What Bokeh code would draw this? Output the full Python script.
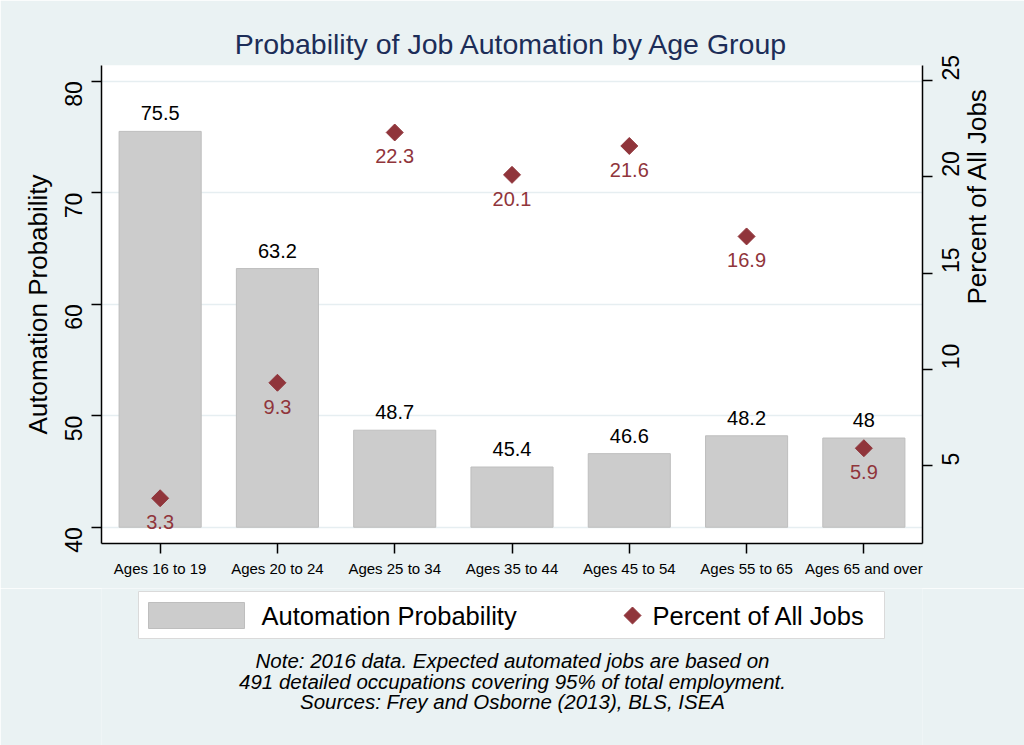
import math
from bokeh.plotting import figure
from bokeh.models import Range1d, LinearAxis, FixedTicker, FactorRange
from bokeh.layouts import column
from bokeh.core.properties import value
from bokeh.embed import file_html
from bokeh.resources import INLINE

# ---------------- data ----------------
categories = ["Ages 16 to 19", "Ages 20 to 24", "Ages 25 to 34", "Ages 35 to 44",
              "Ages 45 to 54", "Ages 55 to 65", "Ages 65 and over"]
automation_prob = [75.5, 63.2, 48.7, 45.4, 46.6, 48.2, 48.0]
pct_all_jobs = [3.3, 9.3, 22.3, 20.1, 21.6, 16.9, 5.9]
left_ticks = [40, 50, 60, 70, 80]
right_ticks = [5, 10, 15, 20, 25]
bar_base = 40
title_text = "Probability of Job Automation by Age Group"
left_title = "Automation Probability"
right_title = "Percent of All Jobs"
legend_labels = ["Automation Probability", "Percent of All Jobs"]
note_lines = ["Note: 2016 data. Expected automated jobs are based on",
              "491 detailed occupations covering 95% of total employment.",
              "Sources: Frey and Osborne (2013), BLS, ISEA"]

# ---------------- style ----------------
BG = "#EAF2F3"
GRID = "#E6EEF1"
BAR_FILL = "#CCCCCC"
BAR_LINE = "#BEBEBE"
MAROON = "#90353B"
NAVY = "#1C2D58"
FONT = "Liberation Sans"

W, H_MAIN, H_FOOT = 1024, 588, 157

main = figure(width=W, height=H_MAIN,
              x_range=FactorRange(*categories, range_padding=0),
              y_range=Range1d(38.54, 81.41),
              output_backend="svg", toolbar_location=None,
              min_border_left=101, min_border_right=102,
              min_border_top=65, min_border_bottom=45,
              title=title_text)
main.extra_y_ranges = {"right": Range1d(0.95, 25.78)}
main.background_fill_color = "white"
main.border_fill_color = BG
main.outline_line_color = None

main.title.align = "center"
main.title.text_font = FONT
main.title.text_font_size = "28.5px"
main.title.text_font_style = "normal"
main.title.text_color = NAVY
main.title.standoff = 12

right_axis = LinearAxis(y_range_name="right", axis_label=right_title)
main.add_layout(right_axis, "right")


def style_axis(ax, ticks=None, label_size="23px", orient=None):
    ax.axis_line_color = "black"
    ax.axis_line_width = 1.5
    ax.major_tick_line_color = "black"
    ax.major_tick_line_width = 1.5
    ax.major_tick_out = 10
    ax.major_tick_in = 0
    ax.minor_tick_line_color = None
    ax.major_label_text_font = FONT
    ax.major_label_text_font_size = label_size
    ax.major_label_text_color = "black"
    ax.axis_label_text_font = FONT
    ax.axis_label_text_font_size = "26px"
    ax.axis_label_text_font_style = "normal"
    ax.axis_label_text_color = "black"
    if ticks is not None:
        ax.ticker = FixedTicker(ticks=ticks)
    if orient is not None:
        ax.major_label_orientation = orient


left_axis = main.yaxis[0]
left_axis.axis_label = left_title
style_axis(left_axis, left_ticks, orient=math.pi / 2)
left_axis.major_label_standoff = 18
left_axis.axis_label_standoff = 1

style_axis(right_axis, right_ticks, orient=math.pi / 2)
right_axis.major_label_standoff = 18
right_axis.axis_label_standoff = 6
if hasattr(right_axis, "axis_label_orientation"):
    right_axis.axis_label_orientation = math.pi / 2

xax = main.xaxis[0]
style_axis(xax, None, label_size="15px")
xax.major_label_standoff = 6

main.xgrid.grid_line_color = None
main.ygrid.ticker = FixedTicker(ticks=left_ticks)
main.ygrid.grid_line_color = GRID
main.ygrid.grid_line_width = 1.5

# bars
main.vbar(x=categories, top=automation_prob, bottom=bar_base, width=0.70,
          fill_color=BAR_FILL, line_color=BAR_LINE, line_width=1)
main.text(x=categories, y=automation_prob,
          text=[f"{v:g}" for v in automation_prob],
          text_align="center", text_baseline="alphabetic", y_offset=-18,
          text_font=value(FONT), text_font_size="20px", text_color="black")

# markers (diamonds)
main.scatter(x=categories, y=pct_all_jobs, y_range_name="right",
             marker="square", angle=math.pi / 4, size=12,
             fill_color=MAROON, line_color=MAROON)
main.text(x=categories, y=pct_all_jobs, y_range_name="right",
          text=[f"{v:g}" for v in pct_all_jobs],
          text_align="center", text_baseline="alphabetic", y_offset=24,
          text_font=value(FONT), text_font_size="20px", text_color=MAROON)

# ---------------- footer: legend + note (page pixel coordinates) ----------------
# frames of a column are aligned, so x runs over the main frame's pixel span
foot = figure(width=W, height=H_FOOT, x_range=Range1d(101, 922),
              y_range=Range1d(H_MAIN + H_FOOT, H_MAIN),
              output_backend="svg", toolbar_location=None, min_border=0,
              x_axis_location=None, y_axis_location=None)
foot.grid.visible = False
foot.outline_line_color = None
foot.background_fill_color = BG
foot.border_fill_color = BG

foot.quad(left=[138], right=[884], top=[591], bottom=[638],
          fill_color="white", line_color="#DADADA", line_width=1)
foot.quad(left=[148], right=[244], top=[602], bottom=[628],
          fill_color=BAR_FILL, line_color=BAR_LINE, line_width=1)
foot.scatter(x=[632], y=[615], marker="square", angle=math.pi / 4, size=12,
             fill_color=MAROON, line_color=MAROON)
foot.text(x=[261, 652], y=[615, 615], text=legend_labels,
          text_align="left", text_baseline="middle",
          text_font=value(FONT), text_font_size="25.5px", text_color="black")
foot.text(x=[512, 512, 512], y=[660, 681, 701], text=note_lines,
          text_align="center", text_baseline="middle",
          text_font=value(FONT), text_font_size="20.5px",
          text_font_style="italic", text_color="black")

p = column(main, foot, spacing=0)

open("out.html", "w").write(file_html(p, INLINE))
